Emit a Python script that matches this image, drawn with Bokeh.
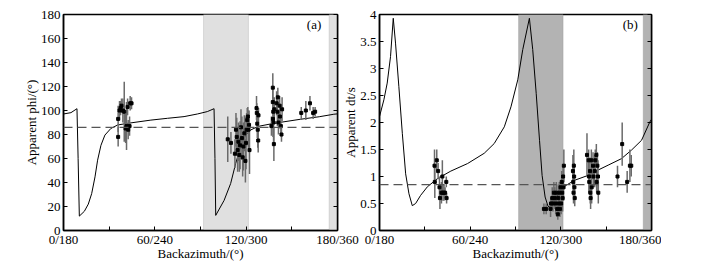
import numpy as np
from bokeh.plotting import figure
from bokeh.layouts import row
from bokeh.models import Range1d, FixedTicker, LinearAxis, BoxAnnotation, Span, Label
from bokeh.embed import file_html
from bokeh.resources import INLINE

FONT = "Liberation Serif"

# ---------------- data ----------------
x_major_ticks = [0, 60, 120, 180]
x_minor_ticks = [30, 90, 150]
x_tick_labels = {0: "0/180", 60: "60/240", 120: "120/300", 180: "180/360"}
phi_ticks = [0, 20, 40, 60, 80, 100, 120, 140, 160, 180]
dt_ticks = [0, 0.5, 1, 1.5, 2, 2.5, 3, 3.5, 4]
dt_tick_labels = {0: "0", 0.5: "0.5", 1: "1", 1.5: "1.5", 2: "2", 2.5: "2.5", 3: "3", 3.5: "3.5", 4: "4"}

# grey (null / excluded) backazimuth sectors
band1 = [92, 121.5]
band2 = [174.5, 180]

# reference mean values (dashed lines)
phi_mean = 86
dt_mean = 0.85

# model curve, apparent phi
phi_curve_x = [0, 4.9, 8.85, 9.6, 10.4, 13.7, 16.3, 18.5, 20.7, 22.4, 24.6, 27.2, 31.1, 35.5, 42.1,
               57.4, 68.3, 79.2, 88.0, 94.5, 98.9, 99.5, 100.0, 105.5, 109.8, 113.1, 116.4, 119.7,
               123.0, 128.0, 138.2, 155.7, 168.0, 177.6, 180]
phi_curve_y = [97.1, 98.2, 101.5, 60, 12, 16, 22, 30.7, 44.7, 58.6, 71, 79.5, 85, 87.9, 89.3,
               92, 93.5, 94.9, 97.1, 99.1, 101.5, 60, 12.6, 25.1, 39.1, 55.8, 69.8, 79.6,
               83.8, 86.8, 89.3, 92.7, 94.8, 96.9, 97.2]

# model curve, apparent delay time
dt_curve_x = [0, 2.9, 5.1, 7.3, 9.1, 10.6, 12.8, 15.1, 17.3, 19.5, 21.7, 23.9, 27.2, 31.7, 38.3,
              47.2, 58.3, 69.3, 75.9, 82.6, 87.0, 91.5, 94.8, 99.2, 101.4, 103.7, 105.9, 107.6,
              109.6, 111.5, 112.8, 114.5, 117.5, 122.5, 129.1, 138.0, 144.7, 151.3, 160.1, 166.8,
              173.4, 178.9, 180]
dt_curve_y = [2.11, 2.42, 2.73, 3.22, 3.93, 3.47, 2.67, 1.8, 1.05, 0.68, 0.46, 0.5, 0.65, 0.81, 0.96,
              1.10, 1.24, 1.43, 1.61, 1.92, 2.29, 2.79, 3.35, 3.93, 3.35, 2.54, 1.67, 1.02,
              0.62, 0.45, 0.43, 0.5, 0.63, 0.82, 0.93, 1.02, 1.12, 1.21, 1.33, 1.49,
              1.67, 2.01, 2.06]

# measurements, apparent phi
phi_baz = [35.9, 35.9, 36.8, 37.5, 38.1, 39.0, 39.9, 40.8, 41.4, 42.1, 42.5, 43.4, 43.8, 44.7,
           107.9, 110.0, 112.6, 113.3, 113.8, 114.4, 114.9, 115.5, 116.0, 116.6, 117.2, 117.7,
           118.2, 118.8, 119.5, 119.9, 120.3, 120.7, 121.1, 121.5, 121.9, 122.2,
           126.8, 127.0, 127.3, 127.6, 127.9, 128.1,
           136.6, 137.5, 137.5, 137.8, 137.6, 138.0, 138.2, 138.5, 140.0, 140.8, 140.5, 141.2,
           142.0, 142.2, 142.8, 143.2, 143.6,
           156.2, 159.2, 161.9, 164.0, 165.3]
phi_val = [78, 93, 100, 102, 104, 100, 99, 85, 87, 103, 84, 87, 106, 106,
           76, 73, 64, 84, 78, 67, 74, 63, 71, 86, 77, 61,
           70, 81, 58, 73, 84, 92, 95, 84, 88, 67,
           102, 98, 89, 84, 75, 96,
           87, 119, 107, 99, 93, 90, 72, 101, 106, 111, 99, 90,
           104, 95, 87, 80, 101,
           98, 100, 106, 98, 99]
phi_err = [8, 11, 8, 6, 6, 10, 25, 12, 20, 7, 8, 8, 6, 5,
           19, 9, 12, 14, 16, 18, 16, 14, 20, 15, 18, 16,
           20, 15, 18, 22, 14, 10, 8, 16, 12, 20,
           10, 8, 12, 15, 10, 6,
           8, 12, 10, 12, 15, 20, 14, 10, 10, 8, 12, 10,
           8, 10, 8, 6, 10,
           5, 8, 6, 5, 4]

# measurements, apparent delay time
dt_baz = [36.4, 36.6, 37.9, 38.8, 39.7, 40.0, 41.0, 41.6, 42.0, 42.7, 43.4, 44.2, 44.4,
          108.8, 110.3, 113.2, 113.5, 114.3, 114.8, 115.4, 116.0, 116.6, 117.0, 117.6, 118.0,
          118.3, 118.7, 119.0, 119.4, 119.8, 120.2, 120.6, 120.9, 121.2, 121.5, 121.8, 122.0,
          128.0, 128.2, 128.4, 128.6, 128.8, 129.0, 129.2,
          137.3, 138.4, 138.6, 138.8, 139.3, 139.5, 139.7, 140.2, 140.4, 141.3, 141.6, 142.4,
          142.8, 143.5, 143.7, 144.2, 144.6, 144.8,
          157.5, 160.6, 163.9, 165.7, 166.6]
dt_val = [1.2, 0.9, 1.3, 1.1, 0.8, 0.6, 0.7, 1.0, 0.7, 0.7, 0.7, 0.9, 0.6,
          0.4, 0.4, 0.4, 0.5, 0.6, 0.5, 0.7, 0.6, 0.5, 0.7, 0.4, 0.3,
          0.6, 0.5, 0.7, 0.4, 0.8, 0.5, 0.9, 0.7, 0.6, 1.0, 0.8, 1.2,
          1.1, 0.9, 0.7, 1.2, 1.0, 0.8, 0.6,
          1.4, 1.3, 1.0, 0.9, 1.1, 0.7, 0.6, 1.3, 0.8, 1.2, 1.0, 1.1,
          1.3, 1.4, 0.9, 1.2, 1.0, 0.7,
          1.0, 1.6, 0.9, 1.2, 1.2]
dt_err = [0.3, 0.3, 0.2, 0.15, 0.2, 0.2, 0.2, 0.3, 0.15, 0.15, 0.1, 0.1, 0.1,
          0.1, 0.1, 0.15, 0.1, 0.2, 0.15, 0.2, 0.2, 0.2, 0.2, 0.15, 0.1,
          0.25, 0.2, 0.2, 0.15, 0.1, 0.2, 0.2, 0.2, 0.25, 0.2, 0.25, 0.3,
          0.3, 0.25, 0.2, 0.3, 0.25, 0.2, 0.15,
          0.4, 0.2, 0.3, 0.2, 0.25, 0.2, 0.2, 0.2, 0.3, 0.25, 0.2, 0.3,
          0.2, 0.2, 0.2, 0.25, 0.3, 0.2,
          0.2, 0.4, 0.2, 0.3, 0.2]


def style_axes(p, yticks, ylabel, ylabel_overrides=None, ylabel_standoff=-1):
    p.xgrid.grid_line_color = None
    p.ygrid.grid_line_color = None
    p.outline_line_color = "black"
    p.outline_line_width = 1.5
    p.outline_line_alpha = 1

    xa = p.xaxis[0]
    xa.ticker = FixedTicker(ticks=x_major_ticks, minor_ticks=x_minor_ticks)
    xa.major_label_overrides = x_tick_labels
    xa.axis_label = "Backazimuth/(°)"
    ya = p.yaxis[0]
    ya.ticker = FixedTicker(ticks=yticks)
    if ylabel_overrides:
        ya.major_label_overrides = ylabel_overrides
    ya.axis_label = ylabel

    # mirrored tick marks on the right edge (no labels)
    ra = LinearAxis(ticker=FixedTicker(ticks=[], minor_ticks=yticks), axis_label=None)
    p.add_layout(ra, "right")

    for ax in (xa, ya, ra):
        ax.major_tick_in = 4
        ax.major_tick_out = 0
        ax.minor_tick_in = 4
        ax.minor_tick_out = 0
        ax.major_tick_line_color = "black"
        ax.minor_tick_line_color = "black"
        ax.major_tick_line_width = 1
        ax.minor_tick_line_width = 1
        ax.axis_line_color = "black"
        ax.axis_line_width = 1.5
        ax.major_label_text_font = FONT
        ax.axis_label_text_font = FONT
        ax.axis_label_text_font_style = "normal"
        ax.axis_label_text_color = "black"
        ax.major_label_text_color = "black"
        ax.major_label_text_font_size = "13px"
        ax.axis_label_text_font_size = "13px"
    xa.major_label_standoff = 1
    xa.axis_label_standoff = -4
    ya.major_label_standoff = 3
    ya.axis_label_standoff = ylabel_standoff


def add_data(p, cx, cy, bx, by, be, mean, band_color, band_line, tag, tag_xy):
    p.add_layout(BoxAnnotation(left=band1[0], right=band1[1], fill_color=band_color, fill_alpha=1,
                               line_color=band_line, line_width=1, level="underlay"))
    p.add_layout(BoxAnnotation(left=band2[0], right=band2[1], fill_color=band_color, fill_alpha=1,
                               line_color=band_line, line_width=1, level="underlay"))
    p.add_layout(Span(location=mean, dimension="width", line_color="#555555",
                      line_dash="9 5", line_width=1.2))
    p.line(cx, cy, line_color="black", line_width=1)
    bx = np.array(bx, dtype=float)
    by = np.array(by, dtype=float)
    be = np.array(be, dtype=float)
    p.segment(x0=bx, y0=by - be, x1=bx, y1=by + be, line_color="#6a6a6a", line_width=1.5)
    p.scatter(bx, by, marker="square", size=3, fill_color="black", line_color="black")
    p.add_layout(Label(x=tag_xy[0], y=tag_xy[1], text=tag, text_align="center",
                       text_baseline="middle", text_font=FONT, text_font_size="13px",
                       text_color="black"))


p1 = figure(width=360, height=264, x_range=Range1d(0, 180), y_range=Range1d(0, 180),
            output_backend="svg", toolbar_location=None,
            min_border_left=63, min_border_right=23, min_border_top=14, min_border_bottom=34)
style_axes(p1, phi_ticks, "Apparent phi/(°)", ylabel_standoff=-1)
add_data(p1, phi_curve_x, phi_curve_y, phi_baz, phi_val, phi_err, phi_mean,
         "#e0e0e0", "#9a9a9a", "(a)", (164.6, 171.5))

p2 = figure(width=321, height=264, x_range=Range1d(0, 180), y_range=Range1d(0, 4),
            output_backend="svg", toolbar_location=None,
            min_border_left=39, min_border_right=10, min_border_top=14, min_border_bottom=34,
            border_fill_color=None, margin=(0, 0, 0, -20))
style_axes(p2, dt_ticks, "Apparent dt/s", dt_tick_labels, ylabel_standoff=-1)
add_data(p2, dt_curve_x, dt_curve_y, dt_baz, dt_val, dt_err, dt_mean,
         "#b3b3b3", "#8a8a8a", "(b)", (166, 3.81))

layout = row(p1, p2)
open("out.html", "w").write(file_html(layout, INLINE))
